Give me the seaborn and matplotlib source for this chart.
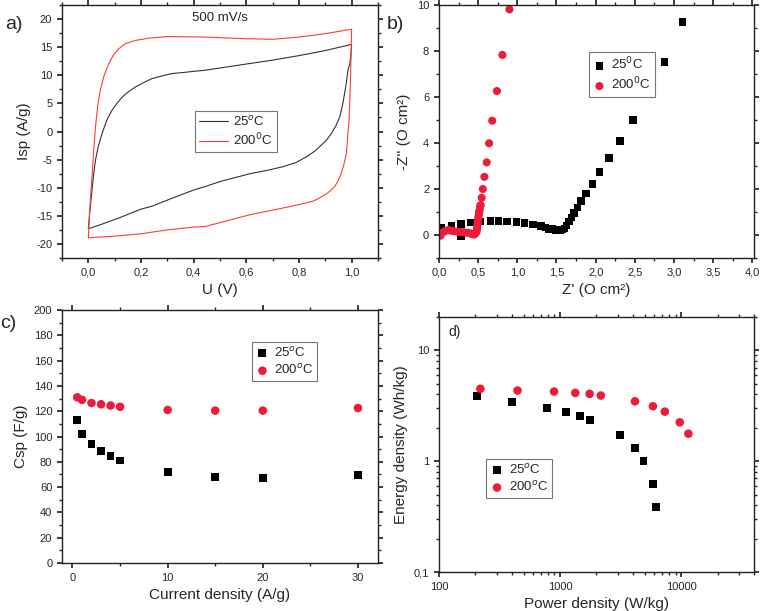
import numpy as np
import matplotlib
matplotlib.use("Agg")
import matplotlib.pyplot as plt
import matplotlib.ticker as mticker
import seaborn as sns

# ---------------- DATA ----------------
# a) CV loops at 500 mV/s (traced around the loop)
cv_u_25 = [0.0, 0.005, 0.014, 0.02, 0.027, 0.038, 0.052, 0.07, 0.09, 0.11, 0.128, 0.15, 0.178, 0.21, 0.241,
           0.28, 0.317, 0.36, 0.4, 0.443, 0.5, 0.6, 0.7, 0.8, 0.9, 1.0,
           0.997, 0.993, 0.986, 0.98, 0.973, 0.965, 0.955, 0.94, 0.923, 0.905, 0.885, 0.86, 0.828, 0.79,
           0.74, 0.68, 0.614, 0.5, 0.443, 0.4, 0.3, 0.241, 0.2, 0.115, 0.05, 0.0]
cv_i_25 = [-17.3, -14.5, -10.4, -7.6, -5.1, -2.6, -0.35, 2.0, 3.8, 5.1, 6.1, 7.0, 7.9, 8.7, 9.4,
           9.9, 10.3, 10.5, 10.7, 10.9, 11.3, 12.0, 12.7, 13.5, 14.4, 15.5,
           13.5, 12.0, 10.9, 8.7, 6.7, 4.6, 2.6, 1.0, -0.35, -1.5, -2.4, -3.5, -4.5, -5.5,
           -6.25, -6.9, -7.5, -8.9, -9.8, -10.4, -12.2, -13.3, -13.8, -15.4, -16.5, -17.3]
cv_u_200 = [0.0, 0.005, 0.01, 0.014, 0.02, 0.027, 0.035, 0.045, 0.06, 0.077, 0.095, 0.115, 0.14, 0.178,
            0.23, 0.304, 0.443, 0.6, 0.7, 0.8, 0.9, 1.0,
            0.999, 0.998, 0.996, 0.993, 0.99, 0.985, 0.98, 0.971, 0.961, 0.949, 0.936, 0.918, 0.898,
            0.875, 0.853, 0.8, 0.74, 0.614, 0.5, 0.443, 0.4, 0.3, 0.241, 0.2, 0.1, 0.0]
cv_i_200 = [-18.9, -14.0, -10.5, -8.0, -3.5, 0.8, 4.3, 7.3, 10.0, 12.0, 13.6, 14.7, 15.6, 16.2,
            16.6, 16.9, 16.8, 16.5, 16.4, 16.8, 17.4, 18.2,
            16.0, 14.0, 9.7, 5.5, 2.0, -1.0, -3.9, -5.8, -7.4, -8.7, -9.8, -10.6, -11.3,
            -11.9, -12.4, -13.0, -13.6, -14.8, -16.2, -16.9, -17.0, -17.5, -17.9, -18.2, -18.6, -18.9]

# b) Nyquist plots
eis_x_25 = [0.03, 0.16, 0.28, 0.28, 0.41, 0.53, 0.66, 0.76, 0.87, 0.99, 1.09, 1.20, 1.30, 1.36, 1.40, 1.44,
            1.49, 1.545, 1.57, 1.60, 1.63, 1.66, 1.69, 1.72, 1.77, 1.81, 1.875, 1.96, 2.05, 2.17, 2.31, 2.48,
            2.65, 2.88, 3.11]
eis_y_25 = [0.33, 0.39, 0.48, -0.04, 0.55, 0.58, 0.61, 0.61, 0.58, 0.56, 0.52, 0.46, 0.38, 0.32, 0.27, 0.25,
            0.22, 0.22, 0.24, 0.28, 0.41, 0.58, 0.77, 0.97, 1.20, 1.49, 1.81, 2.23, 2.74, 3.35, 4.09, 5.01,
            6.13, 7.51, 9.25]
eis_x_200 = [0.02, 0.03, 0.06, 0.08, 0.12, 0.15, 0.19, 0.24, 0.28, 0.31, 0.34, 0.37, 0.40, 0.43, 0.45, 0.46,
             0.47, 0.48, 0.485, 0.489, 0.493, 0.497, 0.501, 0.505, 0.51, 0.514, 0.52, 0.526, 0.533, 0.546,
             0.56, 0.58, 0.61, 0.64, 0.68, 0.74, 0.81, 0.90]
eis_y_200 = [-0.03, 0.07, 0.14, 0.17, 0.22, 0.19, 0.17, 0.14, 0.13, 0.12, 0.10, 0.10, 0.07, 0.04, 0.02, 0.05,
             0.10, 0.14, 0.25, 0.36, 0.47, 0.58, 0.69, 0.80, 0.91, 1.01, 1.09, 1.26, 1.30, 1.62,
             2.0, 2.53, 3.16, 3.99, 4.97, 6.26, 7.83, 9.81]

# c) specific capacitance vs current density
cur_density = [0.5, 1, 2, 3, 4, 5, 10, 15, 20, 30]
csp_25 = [113, 102, 94, 88.5, 84.5, 81, 72, 68, 67, 69.5]
csp_200 = [131, 129, 126.5, 125.5, 124.5, 123.5, 121, 120.5, 120.5, 122.5]

# d) Ragone plot
power_25 = [205, 401, 778, 1119, 1458, 1766, 3112, 4130, 4897, 5850, 6240]
energy_25 = [3.86, 3.40, 3.02, 2.76, 2.54, 2.37, 1.72, 1.31, 1.01, 0.62, 0.388]
power_200 = [220, 446, 893, 1337, 1755, 2173, 4160, 5850, 7340, 9750, 11490]
energy_200 = [4.50, 4.34, 4.25, 4.13, 4.05, 3.91, 3.47, 3.13, 2.80, 2.24, 1.77]

BLACK = "#000000"
RED = "#ED1C3A"

sns.set_theme(style="ticks")
plt.rcParams["font.family"] = ["Liberation Sans", "DejaVu Sans"]
plt.rcParams["axes.unicode_minus"] = False
plt.rcParams["axes.linewidth"] = 1.0
plt.rcParams["xtick.labelsize"] = 8
plt.rcParams["ytick.labelsize"] = 8
plt.rcParams["axes.labelsize"] = 11
plt.rcParams["xtick.major.size"] = 3.5
plt.rcParams["ytick.major.size"] = 3.5
plt.rcParams["xtick.minor.size"] = 2
plt.rcParams["ytick.minor.size"] = 2
plt.rcParams["xtick.minor.visible"] = True
plt.rcParams["ytick.minor.visible"] = True

fig = plt.figure(figsize=(7.62, 6.11), dpi=100)
ax_a = fig.add_axes([0.0814, 0.5777, 0.4146, 0.4141])
ax_b = fig.add_axes([0.576, 0.5777, 0.4135, 0.4141])
ax_c = fig.add_axes([0.0814, 0.0785, 0.4146, 0.4141])
ax_d = fig.add_axes([0.576, 0.0638, 0.4135, 0.4174])

comma = mticker.FuncFormatter(lambda v, p: f"{v:.1f}".replace(".", ","))


def leg_style(ax, **kw):
    leg = ax.legend(frameon=True, fancybox=False, framealpha=1, edgecolor="#777777",
                    fontsize=9.5, borderpad=0.3, labelspacing=0.25, handletextpad=0.4, **kw)
    leg.get_frame().set_linewidth(0.8)
    return leg


# ---- a) CV ----
sns.lineplot(x=cv_u_25, y=cv_i_25, sort=False, estimator=None, color="#333333", lw=0.8,
             label="25$^{o}$C", ax=ax_a)
sns.lineplot(x=cv_u_200, y=cv_i_200, sort=False, estimator=None, color="#FF3B3B", lw=0.8,
             label="200$^{0}$C", ax=ax_a)
ax_a.set_xlim(-0.1, 1.1)
ax_a.set_ylim(-22.5, 22.5)
ax_a.xaxis.set_major_locator(mticker.MultipleLocator(0.2))
ax_a.xaxis.set_minor_locator(mticker.MultipleLocator(0.1))
ax_a.yaxis.set_major_locator(mticker.MultipleLocator(5))
ax_a.yaxis.set_minor_locator(mticker.MultipleLocator(2.5))
ax_a.xaxis.set_major_formatter(comma)
ax_a.set_xlabel("U (V)")
ax_a.set_ylabel("Isp (A/g)")
ax_a.text(0.5, 0.95, "500 mV/s", transform=ax_a.transAxes, ha="center", va="center", fontsize=9.5)
leg_style(ax_a, loc="center left", bbox_to_anchor=(0.4, 0.5), handlelength=2.2)
fig.text(0.007, 0.96, "a)", fontsize=14, ha="left", va="center")

# ---- b) Nyquist ----
sns.scatterplot(x=eis_x_25, y=eis_y_25, marker="s", s=30, color=BLACK, edgecolor="none",
                label="25$^{0}$C", ax=ax_b)
sns.scatterplot(x=eis_x_200, y=eis_y_200, marker="o", s=34, color=RED, edgecolor="none",
                label="200$^{0}$C", ax=ax_b)
ax_b.set_xlim(0, 4.02)
ax_b.set_ylim(-1, 10)
ax_b.xaxis.set_major_locator(mticker.MultipleLocator(0.5))
ax_b.xaxis.set_minor_locator(mticker.MultipleLocator(0.25))
ax_b.yaxis.set_major_locator(mticker.MultipleLocator(2))
ax_b.yaxis.set_minor_locator(mticker.MultipleLocator(1))
ax_b.xaxis.set_major_formatter(comma)
ax_b.set_xlabel("Z' (O cm²)")
ax_b.set_ylabel("-Z'' (O cm²)")
leg_style(ax_b, loc="upper left", bbox_to_anchor=(0.455, 0.84), handlelength=1.0)
fig.text(0.507, 0.96, "b)", fontsize=14, ha="left", va="center")

# ---- c) Capacitance ----
sns.scatterplot(x=cur_density, y=csp_25, marker="s", s=32, color=BLACK, edgecolor="none",
                label="25$^{o}$C", ax=ax_c)
sns.scatterplot(x=cur_density, y=csp_200, marker="o", s=38, color=RED, edgecolor="none",
                label="200$^{o}$C", ax=ax_c)
ax_c.set_xlim(-1.1, 32.1)
ax_c.set_ylim(0, 200)
ax_c.xaxis.set_major_locator(mticker.MultipleLocator(10))
ax_c.xaxis.set_minor_locator(mticker.MultipleLocator(5))
ax_c.yaxis.set_major_locator(mticker.MultipleLocator(20))
ax_c.yaxis.set_minor_locator(mticker.MultipleLocator(10))
ax_c.set_xlabel("Current density (A/g)")
ax_c.set_ylabel("Csp (F/g)")
leg_style(ax_c, loc="upper left", bbox_to_anchor=(0.58, 0.9), handlelength=1.0)
fig.text(0.0, 0.47, "c)", fontsize=14, ha="left", va="center")

# ---- d) Ragone ----
sns.scatterplot(x=power_25, y=energy_25, marker="s", s=32, color=BLACK, edgecolor="none",
                label="25$^{o}$C", ax=ax_d)
sns.scatterplot(x=power_200, y=energy_200, marker="o", s=38, color=RED, edgecolor="none",
                label="200$^{o}$C", ax=ax_d)
ax_d.set_xscale("log")
ax_d.set_yscale("log")
ax_d.set_xlim(100, 40000)
ax_d.set_ylim(0.1, 20)
ax_d.xaxis.set_major_formatter(mticker.FuncFormatter(lambda v, p: f"{v:g}" if v >= 1 else ""))
ax_d.yaxis.set_major_formatter(mticker.FuncFormatter(lambda v, p: f"{v:g}".replace(".", ",")))
ax_d.xaxis.set_minor_formatter(mticker.NullFormatter())
ax_d.yaxis.set_minor_formatter(mticker.NullFormatter())
ax_d.set_xlabel("Power density (W/kg)")
ax_d.set_ylabel("Energy density (Wh/kg)")
leg_style(ax_d, loc="upper left", bbox_to_anchor=(0.13, 0.47), handlelength=1.0)
ax_d.text(0.03, 0.94, "d)", transform=ax_d.transAxes, fontsize=10, ha="left", va="center")

for ax in (ax_a, ax_b, ax_c, ax_d):
    ax.tick_params(which="both", top=True, right=True, direction="out",
                   labeltop=False, labelright=False)
    for sp in ax.spines.values():
        sp.set_color("#222222")

fig.savefig("out.png", dpi=100)
